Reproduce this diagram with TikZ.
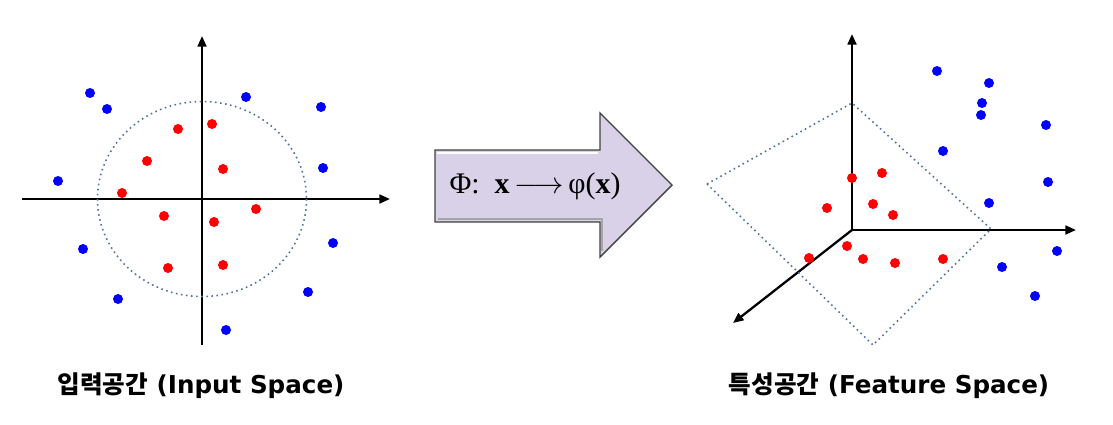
\documentclass[tikz,border=0pt]{standalone}
\usepackage{fontspec}
\setmainfont{DejaVu Sans}
\newfontfamily\krfont{Noto Sans CJK KR}
\newfontfamily\mapfont{Liberation Serif}
\usetikzlibrary{arrows.meta}

\definecolor{ptred}{RGB}{255,0,0}
\definecolor{ptblue}{RGB}{0,0,255}
\definecolor{bound}{RGB}{80,115,155}
\definecolor{lavender}{RGB}{216,209,232}

\begin{document}
\begin{tikzpicture}[
    x=0.02cm, y=-0.02cm,
    axis/.style={draw, line width=1.3pt, -{Triangle[length=6pt,width=5pt]}},
    boundary/.style={draw=bound, dotted, line width=0.9pt},
    inner dot/.style={fill=ptred},
    outer dot/.style={fill=ptblue},
    caption/.style={font=\fontsize{14}{16}\selectfont\bfseries, anchor=center}
]
\useasboundingbox (0,0) rectangle (1113,424);

%% ── Input space: axes and circle ────────────────────────────────────────────
\coordinate (inO)  at (202,199);
\coordinate (inW)  at (22,199);
\coordinate (inE)  at (390,199);
\coordinate (inS)  at (202,345);
\coordinate (inN)  at (202,36);
\draw[axis] (inW) -- (inE);
\draw[axis] (inS) -- (inN);
\draw[boundary] (inO) ellipse [x radius=104.5, y radius=97.5];

%% ── Input space: points ─────────────────────────────────────────────────────
\foreach \px/\py in {178/129, 212/124, 147/161, 223/169, 122/193,
                     164/216, 214/222, 256/209, 168/268, 223/265}
    \path[inner dot] (\px,\py) circle [radius=5];
\foreach \px/\py in {90/93, 107/109, 58/181, 83/249, 118/299, 226/330,
                     308/292, 333/243, 323/168, 321/107, 246/97}
    \path[outer dot] (\px,\py) circle [radius=5];

%% ── Mapping arrow ───────────────────────────────────────────────────────────
\draw[fill=lavender, draw=black!75, line width=0.8pt, line join=miter]
    (435,150) -- (600,150) -- (600,113) -- (672,185)
    -- (600,257) -- (600,222) -- (435,222) -- cycle;
\draw[white, line width=1.2pt] (437,153) -- (598,153);
\draw[black!35, line width=1.2pt] (438,219) -- (602,219) -- (602,251);
\node[font=\mapfont\fontsize{17}{20}\selectfont] (map) at (535,186)
    {Φ:\ \ \textbf{x}\,$\longrightarrow$\,φ(\textbf{x})};

%% ── Feature space: axes and plane ───────────────────────────────────────────
\coordinate (ftO) at (852,230);
\coordinate (ftN) at (852,34);
\coordinate (ftE) at (1076,230);
\coordinate (ftD) at (733,323);
\draw[axis] (ftO) -- (ftN);
\draw[axis] (ftO) -- (ftE);
\draw[axis] (ftO) -- (ftD);
\draw[boundary, line join=round] (707,184) -- (852,103) -- (991,229) -- (873,345) -- cycle;

%% ── Feature space: points ───────────────────────────────────────────────────
\foreach \px/\py in {852/178, 882/173, 827/208, 873/204, 893/215,
                     847/246, 809/258, 863/259, 895/263, 943/259}
    \path[inner dot] (\px,\py) circle [radius=5];
\foreach \px/\py in {937/71, 989/83, 982/103, 981/115, 1046/125, 943/151,
                     1048/182, 989/203, 1057/251, 1002/267, 1035/296}
    \path[outer dot] (\px,\py) circle [radius=5];

%% ── Captions ────────────────────────────────────────────────────────────────
\node[caption] (inlabel) at (201,386) {{\krfont 입력공간} (Input Space)};
\node[caption] (ftlabel) at (889,386) {{\krfont 특성공간} (Feature Space)};

\end{tikzpicture}
\end{document}
